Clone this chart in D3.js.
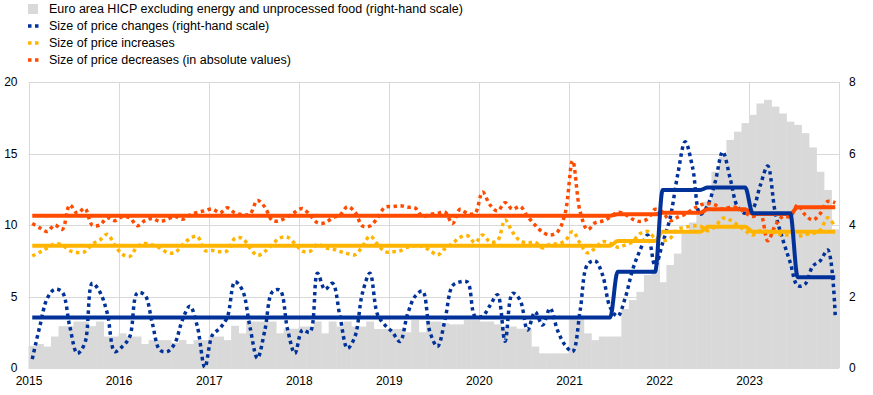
<!DOCTYPE html>
<html>
<head>
<meta charset="utf-8">
<script src="https://cdn.jsdelivr.net/npm/d3@7"></script>
<style>
  body { margin: 0; background: #fff; }
  svg { font-family: "Liberation Sans", Arial, sans-serif; }
  .tick text { font-size: 12px; fill: #000; }
  .legend text { font-size: 12.5px; fill: #000; }
</style>
</head>
<body>
<svg class="canvas" width="873" height="395"></svg>
<script>
// monthly data, Jan 2015 - Dec 2023
var startYear = 2015
var yearLabels = ['2015', '2016', '2017', '2018', '2019', '2020', '2021', '2022', '2023']

// HICP excluding energy and unprocessed food (right-hand scale)
var hicpBars = [
  0.62, 0.67, 0.6, 0.88, 1.17, 1.17, 1.3, 1.3, 1.17, 1.3, 0.88, 0.88,
  0.97, 0.88, 0.88, 0.67, 0.78, 0.78, 0.78, 0.7, 0.78, 0.67, 0.78, 0.78,
  0.88, 0.88, 0.78, 1.18, 0.97, 1.3, 1.3, 1.3, 1.3, 0.97, 1.1, 1.1,
  1.16, 1.16, 1.3, 0.97, 1.3, 1.16, 1.3, 1.16, 1.16, 1.3, 1.09, 1.09,
  1.09, 1.09, 1.0, 1.34, 1.0, 1.3, 1.3, 1.25, 1.22, 1.22, 1.34, 1.34,
  1.3, 1.3, 1.22, 1.16, 1.16, 1.1, 1.1, 0.6, 0.41, 0.41, 0.41, 0.41,
  1.39, 1.39, 0.97, 0.78, 0.88, 0.88, 0.88, 1.65, 1.9, 2.13, 2.6, 2.75,
  2.4, 2.88, 3.2, 3.77, 4.07, 4.3, 4.65, 5.49, 5.91, 6.38, 6.61, 6.85,
  7.08, 7.4, 7.5, 7.31, 7.12, 6.89, 6.8, 6.57, 6.17, 5.49, 4.98, 3.88
]

// size of price changes (right-hand scale)
var priceChanges = [
  0.25, 1.16, 1.95, 2.2, 2.12, 1.16, 0.41, 0.69, 2.37, 2.13, 1.53, 0.46,
  0.6, 0.88, 2.1, 2.04, 1.25, 0.5, 0.46, 0.69, 1.34, 1.73, 1.16, 0.02,
  0.92, 1.11, 1.43, 2.41, 2.18, 1.16, 0.27, 1.06, 2.13, 2.18, 1.1, 0.41,
  1.06, 1.0, 2.65, 2.2, 2.37, 1.45, 0.55, 0.88, 2.1, 2.65, 1.5, 1.2,
  1.0, 0.74, 1.5, 2.0, 2.15, 1.0, 0.6, 1.35, 2.3, 2.41, 2.4, 1.45,
  1.45, 1.75, 2.05, 0.75, 2.09, 1.9, 1.06, 1.57, 1.2, 1.67, 1.05, 0.64,
  0.46, 1.6, 2.9, 3.0, 2.6, 1.7, 1.45, 1.95, 2.75, 3.3, 3.72, 2.85,
  3.5, 4.2, 5.4, 6.33, 5.6, 4.3, 4.55, 5.2, 6.05, 5.3, 4.5, 4.33,
  4.45, 5.1, 5.65, 4.35, 3.6, 2.95, 2.3, 2.35, 2.85, 3.0, 3.3, 1.45
]

// size of price increases
var priceIncreases = [
  7.83, 8.1, 8.4, 8.67, 8.6, 8.2, 8.07, 8.13, 8.67, 8.95, 9.35, 8.6,
  7.95, 7.8, 8.5, 8.7, 8.6, 8.4, 8.07, 8.07, 8.6, 9.05, 9.2, 8.22,
  8.22, 8.13, 8.2, 9.07, 9.07, 8.4, 7.87, 8.15, 8.65, 9.1, 9.15, 8.7,
  8.17, 8.15, 8.66, 8.4, 8.33, 8.15, 8.0, 7.92, 8.5, 9.24, 8.66, 8.13,
  8.13, 8.19, 8.45, 8.55, 8.5, 8.22, 7.9, 8.35, 8.71, 9.14, 9.25, 8.76,
  9.3, 8.82, 8.9, 10.35, 9.5, 8.9, 8.74, 8.8, 8.4, 8.66, 8.68, 8.9,
  9.55, 8.72, 8.05, 8.37, 8.83, 8.72, 8.45, 8.6, 8.85, 9.4, 9.55, 9.07,
  8.9, 9.07, 9.7, 9.84, 9.93, 9.93, 9.6, 9.9, 10.47, 10.35, 10.0, 9.6,
  9.3, 9.6, 9.55, 9.45, 9.3, 9.3, 9.2, 9.35, 9.4, 9.65, 10.5, 9.85
]

// size of price decreases (in absolute values)
var priceDecreases = [
  10.1, 9.8, 9.55, 10.0, 9.7, 11.4, 10.82, 11.17, 9.98, 10.0, 10.5, 10.3,
  10.58, 10.5, 9.95, 10.3, 10.45, 10.25, 10.4, 10.6, 10.4, 10.7, 10.88, 11.0,
  11.12, 10.85, 11.2, 10.85, 10.72, 10.76, 11.72, 11.25, 10.3, 10.32, 10.58, 10.9,
  11.15, 10.7, 10.16, 10.15, 10.5, 10.7, 11.28, 10.9, 9.93, 9.93, 10.5, 11.24,
  11.28, 11.35, 11.24, 11.2, 10.6, 10.75, 10.82, 10.9, 10.1, 11.1, 10.8, 10.82,
  12.3, 11.4, 10.98, 11.56, 11.1, 11.3, 10.6, 10.0, 9.5, 9.3, 9.53, 10.8,
  14.5, 10.95, 9.68, 10.15, 10.28, 10.55, 10.88, 10.75, 10.4, 10.25, 10.43, 11.1,
  10.9, 10.3, 10.55, 10.75, 11.1, 11.4, 11.5, 11.4, 11.1, 11.25, 11.2, 10.85,
  10.6, 10.8, 8.9, 9.95, 10.6, 10.58, 11.4, 10.7, 10.35, 10.8, 11.65, 11.55
]

// period averages (solid lines), each period starts at the given month index
var avgPeriodStarts = [0, 78, 84, 90, 96, 102]
var avgChanges = [1.41, 2.69, 4.98, 5.05, 4.33, 2.54]
var avgIncreases = [8.55, 8.88, 9.53, 9.88, 9.53, 9.53]
var avgDecreases = [10.65, 10.75, 10.86, 11.1, 10.77, 11.24]

var leftTicks = [0, 5, 10, 15, 20]
var rightTicks = [0, 2, 4, 6, 8]

var colors = {
  bars: '#d9d9d9',
  changes: '#003299',
  increases: '#ffb400',
  decreases: '#ff4b00',
  grid: '#d9d9d9'
}

var Page = { width: 873, height: 395 }
var plot = { left: 28.5, right: 839, top: 82, bottom: 368 }

var svg = d3.select('.canvas')

var monthIndex = d3.range(hicpBars.length)

var x = d3.scaleBand()
  .domain(monthIndex)
  .range([plot.left, plot.right])
  .padding(0)

var xYear = d3.scaleTime()
  .domain([new Date(startYear, 0, 1), new Date(startYear + yearLabels.length, 0, 1)])
  .range([plot.left, plot.right])

var yLeft = d3.scaleLinear().domain([0, 20]).range([plot.bottom, plot.top])
var yRight = d3.scaleLinear().domain([0, 8]).range([plot.bottom, plot.top])

function periodValue(values, i) {
  var k = d3.bisectRight(avgPeriodStarts, i) - 1
  return values[k]
}

function drawGrid() {
  var grid = svg.append('g').attr('class', 'grid')

  grid.selectAll('.hgrid')
    .data(leftTicks)
    .enter().append('line')
    .attr('class', 'hgrid')
    .attr('x1', plot.left)
    .attr('x2', plot.right)
    .attr('y1', function(d) { return Math.round(yLeft(d)) + 0.5 })
    .attr('y2', function(d) { return Math.round(yLeft(d)) + 0.5 })
    .attr('stroke', colors.grid)

  var years = d3.range(startYear, startYear + yearLabels.length + 1)
  grid.selectAll('.vgrid')
    .data(years)
    .enter().append('line')
    .attr('class', 'vgrid')
    .attr('x1', function(d) { return Math.round(xYear(new Date(d, 0, 1))) + 0.5 })
    .attr('x2', function(d) { return Math.round(xYear(new Date(d, 0, 1))) + 0.5 })
    .attr('y1', plot.top)
    .attr('y2', plot.bottom)
    .attr('stroke', colors.grid)
}

function drawBars() {
  svg.append('g').selectAll('.bar')
    .data(hicpBars)
    .enter().append('rect')
    .attr('class', 'bar')
    .attr('x', function(d, i) { return x(i) })
    .attr('width', x.bandwidth() + 0.4)
    .attr('y', function(d) { return yRight(d) })
    .attr('height', function(d) { return yRight(0) - yRight(d) })
    .attr('fill', colors.bars)
}

function drawLine(values, scale, color, dotted, curve) {
  var line = d3.line()
    .x(function(d, i) { return x(i) + x.bandwidth() / 2 })
    .y(function(d) { return scale(d) })
    .curve(curve)

  var path = svg.append('path')
    .datum(values)
    .attr('d', line)
    .attr('fill', 'none')
    .attr('stroke', color)

  if (dotted) {
    path.attr('stroke-width', 3.5)
      .attr('stroke-dasharray', '3.5,3.5')
  } else {
    path.attr('stroke-width', 4)
      .attr('stroke-linejoin', 'round')
  }
}

function drawAxes() {
  var left = svg.append('g')
    .attr('transform', 'translate(' + plot.left + ',0)')
    .call(d3.axisLeft(yLeft).tickValues(leftTicks).tickSize(0).tickPadding(11))
  left.select('.domain').remove()

  var right = svg.append('g')
    .attr('transform', 'translate(' + plot.right + ',0)')
    .call(d3.axisRight(yRight).tickValues(rightTicks).tickSize(0).tickPadding(10))
  right.select('.domain').remove()

  var bottom = svg.append('g')
    .attr('transform', 'translate(0,' + plot.bottom + ')')
    .call(d3.axisBottom(xYear)
      .tickValues(yearLabels.map(function(y) { return new Date(+y, 0, 1) }))
      .tickFormat(function(d, i) { return yearLabels[i] })
      .tickSize(0).tickPadding(8))
  bottom.select('.domain').remove()

  svg.selectAll('.tick text').attr('font-family', null).attr('font-size', null)
}

function drawLegend() {
  var items = [
    { label: 'Euro area HICP excluding energy and unprocessed food (right-hand scale)', color: colors.bars, type: 'box' },
    { label: 'Size of price changes (right-hand scale)', color: colors.changes, type: 'dot' },
    { label: 'Size of price increases', color: colors.increases, type: 'dot' },
    { label: 'Size of price decreases (in absolute values)', color: colors.decreases, type: 'dot' }
  ]

  var legend = svg.append('g').attr('class', 'legend')
  var rows = legend.selectAll('.row')
    .data(items)
    .enter().append('g')
    .attr('class', 'row')
    .attr('transform', function(d, i) { return 'translate(0,' + (9 + i * 17) + ')' })

  rows.filter(function(d) { return d.type == 'box' })
    .append('rect')
    .attr('x', 28).attr('y', -5)
    .attr('width', 10).attr('height', 10)
    .attr('fill', function(d) { return d.color })

  rows.filter(function(d) { return d.type == 'dot' })
    .append('line')
    .attr('x1', 28).attr('x2', 39)
    .attr('y1', 0).attr('y2', 0)
    .attr('stroke', function(d) { return d.color })
    .attr('stroke-width', 3.5)
    .attr('stroke-dasharray', '3.5,3.5')

  rows.append('text')
    .attr('x', 49)
    .attr('y', 0)
    .attr('dy', '0.35em')
    .text(function(d) { return d.label })
}

drawGrid()
drawBars()

var smooth = d3.curveCatmullRom.alpha(0.5)
drawLine(priceChanges, yRight, colors.changes, true, smooth)
drawLine(priceIncreases, yLeft, colors.increases, true, smooth)
drawLine(priceDecreases, yLeft, colors.decreases, true, smooth)

// period averages
drawLine(monthIndex.map(function(i) { return periodValue(avgIncreases, i) }), yLeft, colors.increases, false, d3.curveMonotoneX)
drawLine(monthIndex.map(function(i) { return periodValue(avgDecreases, i) }), yLeft, colors.decreases, false, d3.curveMonotoneX)
drawLine(monthIndex.map(function(i) { return periodValue(avgChanges, i) }), yRight, colors.changes, false, d3.curveMonotoneX)

drawAxes()
drawLegend()
</script>
</body>
</html>
